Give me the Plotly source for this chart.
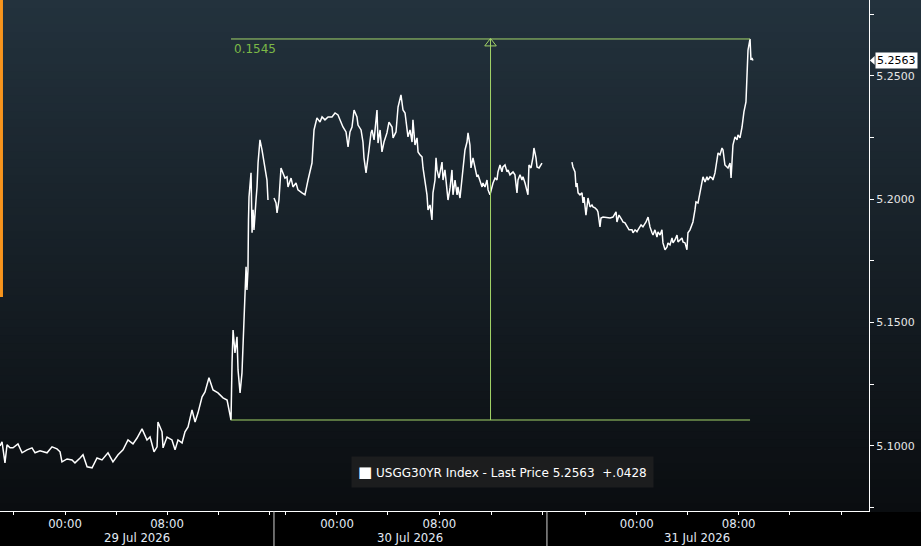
import plotly.graph_objects as go

# USGG30YR intraday, x = chart hours from 00:00 29 Jul (quiet overnight hours squeezed out)
jul29_hours = [
    -5.10, -4.94, -4.71, -4.55, -4.31, -4.08, -3.69, -3.37, -2.98, -2.59,
    -2.35, -1.96, -1.41, -1.02, -0.63, -0.39, -0.24, 0.16, 0.55, 0.78,
    1.18, 1.41, 1.73, 2.12, 2.51, 2.90, 3.37, 3.76, 4.16, 4.55,
    4.94, 5.33, 5.65, 6.04, 6.43, 6.67, 6.98, 7.22, 7.29, 7.61,
    7.69, 8.00, 8.39, 8.63, 8.86, 9.18, 9.41, 9.65, 9.96, 10.20,
    10.43, 10.75, 10.98, 11.29, 11.61, 12.00, 12.39, 12.71, 12.94, 13.02,
    13.10, 13.18, 13.33, 13.49, 13.57, 13.73, 13.88, 13.96, 14.12, 14.20,
    14.27, 14.35, 14.39, 14.43, 14.59, 14.67, 14.75, 14.82, 14.98, 15.06,
    15.14, 15.29, 15.45, 15.53, 15.69, 15.84, 15.92,
]
jul29_yields = [
    5.1000, 5.1016, 5.0931, 5.1004, 5.0992, 5.0992, 5.1008, 5.0972, 5.0984, 5.0992,
    5.0972, 5.0980, 5.0972, 5.0996, 5.0988, 5.0976, 5.0935, 5.0947, 5.0943, 5.0931,
    5.0951, 5.0964, 5.0915, 5.0911, 5.0951, 5.0943, 5.0972, 5.0935, 5.0964, 5.0984,
    5.1024, 5.1008, 5.1032, 5.1069, 5.1024, 5.1036, 5.0976, 5.0996, 5.1097, 5.1057,
    5.0992, 5.1036, 5.1024, 5.0984, 5.1024, 5.1012, 5.1057, 5.1077, 5.1146, 5.1097,
    5.1134, 5.1199, 5.1219, 5.1276, 5.1227, 5.1215, 5.1195, 5.1186, 5.1126, 5.1105,
    5.1336, 5.1470, 5.1377, 5.1442, 5.1308, 5.1215, 5.1296, 5.1401, 5.1551, 5.1726,
    5.1632, 5.1714, 5.1916, 5.2009, 5.2107, 5.1864, 5.1957, 5.1876, 5.1997, 5.2050,
    5.2147, 5.2241, 5.2200, 5.2172, 5.2119, 5.2078, 5.1997,
]

jul30_hours = [
    16.39, 16.55, 16.63,
    16.78, 16.94, 17.10, 17.25, 17.41, 17.49, 17.73, 17.88, 18.12, 18.27,
    18.59, 18.82, 19.06, 19.22, 19.37, 19.53, 19.76, 20.00, 20.16, 20.39,
    20.63, 20.94, 21.18, 21.41, 21.65, 21.80, 22.04, 22.20, 22.35, 22.51,
    22.67, 22.90, 22.98, 23.22, 23.37, 23.45, 23.61, 23.76, 23.84, 24.00,
    24.08, 24.24, 24.47, 24.55, 24.71, 24.86, 25.02, 25.25, 25.41, 25.65,
    25.73, 25.96, 26.12,
    26.35, 26.51, 26.67, 26.82, 26.90, 27.06, 27.22, 27.29, 27.45, 27.61,
    27.69, 27.84, 28.00, 28.08, 28.24, 28.39, 28.47, 28.63, 28.78, 28.86,
    29.02, 29.10, 29.18, 29.33, 29.57, 29.65, 29.80, 29.96, 30.04, 30.20,
    30.35, 30.43, 30.59, 30.75, 30.82, 30.98, 31.14, 31.22, 31.37, 31.53,
    31.61, 31.76, 31.84, 32.00, 32.16, 32.31, 32.39, 32.55, 32.71, 32.78,
    32.94, 33.10, 33.18, 33.33, 33.49, 33.57, 33.73, 33.88, 33.96, 34.12,
    34.27, 34.35, 34.51, 34.67, 34.75, 34.90, 35.06, 35.14, 35.29, 35.45,
    35.53, 35.69, 35.84, 35.92, 36.08, 36.24, 36.31, 36.39, 36.55, 36.71,
    36.78, 36.94, 37.02, 37.18, 37.41,
]
jul30_yields = [
    5.2005, 5.1985, 5.1945,
    5.1997, 5.2127, 5.2107, 5.2086, 5.2091, 5.2050, 5.2086, 5.2050, 5.2066, 5.2038,
    5.2026, 5.2018, 5.2078, 5.2119, 5.2147, 5.2281, 5.2330, 5.2313, 5.2334, 5.2322,
    5.2334, 5.2334, 5.2350, 5.2342, 5.2313, 5.2293, 5.2273, 5.2212, 5.2273, 5.2293,
    5.2362, 5.2334, 5.2301, 5.2281, 5.2232, 5.2168, 5.2107, 5.2159, 5.2200, 5.2269,
    5.2281, 5.2241, 5.2362, 5.2228, 5.2281, 5.2192, 5.2232, 5.2269, 5.2313, 5.2293,
    5.2249, 5.2273, 5.2374,
    5.2423, 5.2362, 5.2350, 5.2269, 5.2253, 5.2281, 5.2232, 5.2322, 5.2220, 5.2249,
    5.2192, 5.2180, 5.2172, 5.2127, 5.2078, 5.2018, 5.1957, 5.1977, 5.1916, 5.2026,
    5.2078, 5.2168, 5.2119, 5.2086, 5.2151, 5.2078, 5.2119, 5.2050, 5.1997, 5.2046,
    5.2119, 5.2018, 5.2078, 5.2018, 5.2050, 5.2005, 5.2091, 5.2147, 5.2200, 5.2232,
    5.2269, 5.2220, 5.2127, 5.2168, 5.2119, 5.2091, 5.2099, 5.2070, 5.2050, 5.2066,
    5.2050, 5.2078, 5.2038, 5.2018, 5.2058, 5.2066, 5.2086, 5.2078, 5.2111, 5.2139,
    5.2111, 5.2131, 5.2139, 5.2111, 5.2119, 5.2099, 5.2107, 5.2111, 5.2099, 5.2026,
    5.2078, 5.2099, 5.2078, 5.2091, 5.2066, 5.2038, 5.2018, 5.2139, 5.2127, 5.2172,
    5.2208, 5.2168, 5.2131, 5.2127, 5.2147,
]

jul31_hours = [
    39.76, 39.84, 40.00, 40.08, 40.16, 40.24, 40.39, 40.55, 40.63, 40.71,
    40.86, 40.94, 41.02, 41.18, 41.33, 41.41, 41.57, 41.73, 41.80, 41.96,
    42.04, 42.20, 42.51, 42.75, 42.98, 43.22, 43.29, 43.45, 43.69, 43.76,
    43.92, 44.08, 44.24, 44.47, 44.55, 44.71, 44.86, 44.94, 45.18, 45.33,
    45.57, 45.73, 45.88, 46.04, 46.12, 46.27, 46.43, 46.51, 46.67, 46.82,
    46.90, 47.06, 47.22, 47.29, 47.45, 47.61, 47.69, 47.84, 48.00, 48.08,
    48.24, 48.39, 48.47, 48.63, 48.78, 48.86, 49.02, 49.18, 49.25, 49.41,
    49.49, 49.65, 49.80, 49.96, 50.04, 50.20, 50.35, 50.43, 50.59, 50.75,
    50.82, 50.98, 51.14, 51.22, 51.37, 51.53, 51.61, 51.76, 51.92, 52.00,
    52.16, 52.24, 52.31, 52.39, 52.55, 52.71, 52.78, 52.94, 53.10, 53.18,
    53.25, 53.41, 53.49, 53.57, 53.73, 53.80, 53.88, 53.96,
]
jul31_yields = [
    5.2151, 5.2131, 5.2111, 5.2050, 5.2066, 5.2026, 5.2018, 5.2026, 5.1985, 5.2009,
    5.1936, 5.1969, 5.2005, 5.1969, 5.1977, 5.1969, 5.1965, 5.1957, 5.1949, 5.1888,
    5.1924, 5.1928, 5.1924, 5.1924, 5.1928, 5.1949, 5.1908, 5.1936, 5.1916, 5.1908,
    5.1904, 5.1888, 5.1876, 5.1876, 5.1864, 5.1876, 5.1868, 5.1876, 5.1896, 5.1888,
    5.1908, 5.1928, 5.1888, 5.1864, 5.1855, 5.1876, 5.1847, 5.1868, 5.1855, 5.1876,
    5.1823, 5.1795, 5.1807, 5.1823, 5.1815, 5.1843, 5.1823, 5.1835, 5.1855, 5.1827,
    5.1835, 5.1843, 5.1827, 5.1823, 5.1795, 5.1864, 5.1876, 5.1896, 5.1908, 5.1957,
    5.1989, 5.1985, 5.2026, 5.2078, 5.2091, 5.2070, 5.2091, 5.2078, 5.2091, 5.2086,
    5.2078, 5.2107, 5.2168, 5.2188, 5.2180, 5.2208, 5.2200, 5.2139, 5.2131, 5.2127,
    5.2147, 5.2086, 5.2147, 5.2220, 5.2253, 5.2241, 5.2261, 5.2249, 5.2293, 5.2334,
    5.2354, 5.2395, 5.2524, 5.2605, 5.2650, 5.2565, 5.2573, 5.2563,
]

tick_hours = [-4.08, 0, 4, 8, 12, 16, 17.33, 21.33, 25.33, 29.36, 33.47, 37.44,
              40.84, 44.84, 48.84, 52.84, 56.84, 60.89]
tick_text = ["", "00:00", "", "08:00", "", "", "", "00:00", "", "08:00", "", "",
             "", "00:00", "", "08:00", "", ""]
day_labels = ["29 Jul 2026", "30 Jul 2026", "31 Jul 2026"]
day_label_hours = [5.65, 27.06, 49.53]
day_break_hours = [16.39, 37.80]
y_ticks = [5.10, 5.15, 5.20, 5.25]

ticker = "USGG30YR Index"
net_change = 0.0428
measure_start_hour = 13.02   # low point the measuring tool was dragged from

# join the sessions with breaks between them
hours = jul29_hours + [None] + jul30_hours + [None] + jul31_hours
yields = jul29_yields + [None] + jul30_yields + [None] + jul31_yields

last_price = jul31_yields[-1]
all_pts = [(h, y) for h, y in zip(hours, yields) if y is not None]
hi_hour, hi = max(all_pts, key=lambda p: p[1])
lo_hour = measure_start_hour
lo = dict(all_pts)[measure_start_hour]
mid_hour = (lo_hour + hi_hour) / 2

GREEN = "#a3d468"
GREEN_TEXT = "#7cb947"
FONT = "DejaVu Sans"
NARROW = "DejaVu Sans Condensed, Liberation Sans Narrow, DejaVu Sans"

fig = go.Figure()

fig.add_trace(go.Scatter(
    x=hours, y=yields, mode="lines",
    line=dict(color="white", width=1.5),
    connectgaps=False, name=ticker, showlegend=False,
))

# hollow arrow head of the measuring line
fig.add_trace(go.Scatter(
    x=[mid_hour], y=[hi - 0.0018], mode="markers",
    marker=dict(symbol="triangle-up-open", size=10, color=GREEN, line=dict(color=GREEN, width=1)),
    showlegend=False, hoverinfo="skip",
))

shapes = []

# dark slate -> near black background gradient
top_rgb = (35, 50, 61)
bot_rgb = (10, 13, 16)
n_bands = 64
for i in range(n_bands):
    f = (i + 0.5) / n_bands
    c = tuple(round(t + (b - t) * f) for t, b in zip(top_rgb, bot_rgb))
    shapes.append(dict(
        type="rect", xref="paper", yref="paper", layer="below",
        x0=0, x1=1.07, y0=1 - (i + 1) / n_bands - 0.002, y1=1 - i / n_bands,
        fillcolor="rgb(%d,%d,%d)" % c, line_width=0,
    ))

# orange marker on the left edge
shapes.append(dict(type="line", xref="paper", yref="paper", x0=0.0017, x1=0.0017,
                   y0=0.419, y1=1, line=dict(color="#f7941d", width=3)))

# measuring tool
shapes.append(dict(type="line", xref="x", yref="y", x0=lo_hour, x1=hi_hour, y0=hi, y1=hi,
                   line=dict(color=GREEN, width=1)))
shapes.append(dict(type="line", xref="x", yref="y", x0=lo_hour, x1=hi_hour, y0=lo, y1=lo,
                   line=dict(color=GREEN, width=1)))
shapes.append(dict(type="line", xref="x", yref="y", x0=mid_hour, x1=mid_hour, y0=lo, y1=hi,
                   line=dict(color=GREEN, width=1)))

# day separators in the axis strip
for h in day_break_hours:
    shapes.append(dict(type="line", xref="x", yref="paper", x0=h, x1=h, y0=-0.07, y1=0,
                       line=dict(color="#d0d0d0", width=1)))

# notch of the last price tag
shapes.append(dict(type="path", xref="paper", yref="y",
                   path="M 1.001,%f L 1.0065,%f L 1.0065,%f Z" % (last_price, last_price + 0.0018, last_price - 0.0018),
                   fillcolor="white", line_width=0))

annotations = []
for lab, h in zip(day_labels, day_label_hours):
    annotations.append(dict(x=h, y=-0.051, xref="x", yref="paper", text=lab, showarrow=False,
                            xanchor="center", yanchor="middle",
                            font=dict(family=NARROW, size=13, color="#e2ebf5")))

annotations.append(dict(x=lo_hour, y=hi, xref="x", yref="y", text="%.4f" % (hi - lo),
                        showarrow=False, xanchor="left", yanchor="top", xshift=1, yshift=-1,
                        font=dict(family=FONT, size=12, color=GREEN_TEXT)))

annotations.append(dict(x=1, y=last_price, xref="paper", yref="y", text="%.4f" % last_price,
                        showarrow=False, xanchor="left", yanchor="middle", xshift=6,
                        bgcolor="white", borderpad=1,
                        font=dict(family=FONT, size=11, color="black")))

legend_text = ("<span style='font-size:15px'>\u25a0</span> %s - Last Price %.4f\u00a0\u00a0+%s"
               % (ticker, last_price, ("%.4f" % net_change)[1:]))
annotations.append(dict(x=0.5788, y=0.0763, xref="paper", yref="paper", text=legend_text,
                        showarrow=False, xanchor="center", yanchor="middle",
                        bgcolor="#1c1d1e", borderpad=6,
                        font=dict(family=FONT, size=12, color="white")))

fig.update_layout(
    width=921, height=546,
    margin=dict(l=0, r=52, t=0, b=35),
    paper_bgcolor="black", plot_bgcolor="rgba(0,0,0,0)",
    showlegend=False,
    shapes=shapes, annotations=annotations,
    xaxis=dict(
        range=[-5.10, 63.06], showgrid=False, zeroline=False,
        tickmode="array", tickvals=tick_hours, ticktext=tick_text,
        ticks="outside", ticklen=3, tickcolor="white",
        ticklabelstandoff=-3,
        showline=True, linecolor="white", linewidth=1,
        tickfont=dict(family=NARROW, size=13, color="#e2ebf5"),
    ),
    yaxis=dict(
        range=[5.0736, 5.2808], side="right", showgrid=False, zeroline=False,
        tickmode="array", tickvals=y_ticks, tickformat=".4f",
        ticks="outside", ticklen=4, tickcolor="white",
        minor=dict(tickmode="array", tickvals=[5.075, 5.125, 5.175, 5.225, 5.275],
                   ticks="outside", ticklen=4, tickcolor="white"),
        showline=True, linecolor="white", linewidth=1,
        tickfont=dict(family=FONT, size=11, color="#e6e6e6"),
    ),
)

# the page's default body margin would shift the chart off the window
fig.write_html("out.html", config={"displayModeBar": False},
               post_script="document.body.style.margin = '0';")
